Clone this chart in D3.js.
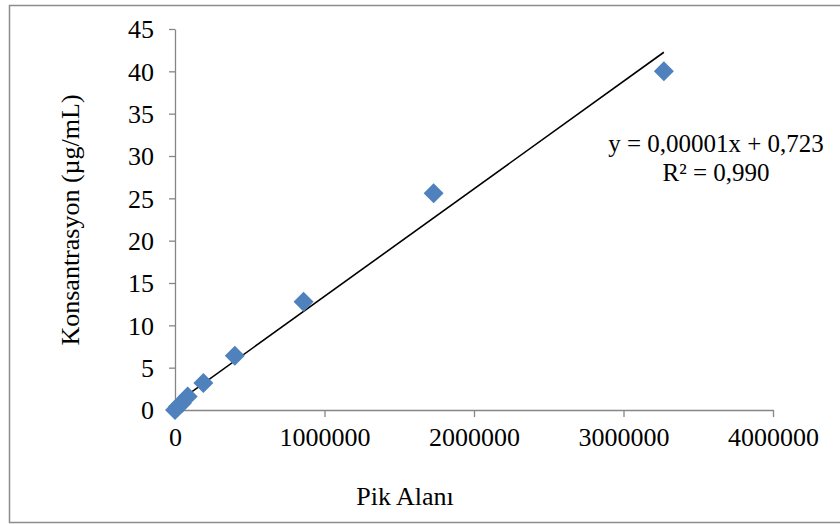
<!DOCTYPE html>
<html>
<head>
<meta charset="utf-8">
<script src="https://cdn.jsdelivr.net/npm/d3@7"></script>
<style>
  body { margin: 0; background: #fff; }
  text { font-family: "Liberation Serif", "Times New Roman", serif; fill: #000; }
</style>
</head>
<body>
<script>
// pik alani (x) vs konsantrasyon (y)
const pikAlani = [0, 20000, 45000, 85000, 190000, 400000, 860000, 1730000, 3270000]
const konsantrasyon = [0, 0.4, 0.8, 1.6, 3.2, 6.4, 12.8, 25.6, 40]
const xTicks = [0, 1000000, 2000000, 3000000, 4000000]
const yTicks = [0, 5, 10, 15, 20, 25, 30, 35, 40, 45]
const trendSlope = 0.0000127
const trendIntercept = 0.723
const equationLines = ["y = 0,00001x + 0,723", "R² = 0,990"]

const W = 840, H = 524

const svg = d3.select("body")
              .append("svg")
              .attr("width", W)
              .attr("height", H)

// chart border
svg.append("rect")
   .attr("x", 9.5).attr("y", 5.5)
   .attr("width", 860).attr("height", 517)
   .attr("fill", "none")
   .attr("stroke", "#8c8c8c")
   .attr("stroke-width", 1.5)

const x = d3.scaleLinear().domain([0, 4000000]).range([175, 773])
const y = d3.scaleLinear().domain([0, 45]).range([410, 29])

const xAxis = svg.append("g")
                 .attr("transform", "translate(0,410)")
                 .call(d3.axisBottom(x).tickValues(xTicks).tickFormat(d3.format("d")).tickSizeInner(7).tickSizeOuter(0))
const yAxis = svg.append("g")
                 .attr("transform", "translate(175,0)")
                 .call(d3.axisLeft(y).tickValues(yTicks).tickSizeInner(6).tickSizeOuter(0))

for (const ax of [xAxis, yAxis]) {
  ax.select(".domain").attr("stroke", "#868686").attr("stroke-width", 1.3)
  ax.selectAll(".tick line").attr("stroke", "#868686").attr("stroke-width", 1.3)
  ax.selectAll(".tick text")
    .attr("font-size", "26px")
    .attr("font-family", "Liberation Serif, serif")
    .attr("fill", "#000")
}
xAxis.selectAll(".tick text").attr("dy", "1.0em")
yAxis.selectAll(".tick text").attr("x", -21).attr("dy", "0.34em")

// trendline
const x0 = d3.min(pikAlani), x1 = d3.max(pikAlani)
svg.append("line")
   .attr("x1", x(x0 + 7000)).attr("y1", y(trendSlope * (x0 + 7000) + trendIntercept))
   .attr("x2", x(x1)).attr("y2", y(trendSlope * x1 + trendIntercept))
   .attr("stroke", "#000")
   .attr("stroke-width", 1.6)

// points
const pts = pikAlani.map((v, i) => [v, konsantrasyon[i]])
svg.append("g")
   .selectAll("path")
   .data(pts)
   .join("path")
   .attr("d", d3.symbol(d3.symbolSquare, 200))
   .attr("transform", d => `translate(${x(d[0])},${y(d[1])}) rotate(45)`)
   .attr("fill", "#4f81bd")

// trendline label
svg.append("text")
   .attr("x", 716).attr("y", 152)
   .attr("text-anchor", "middle")
   .attr("font-size", "25px")
   .selectAll("tspan")
   .data(equationLines)
   .join("tspan")
   .attr("x", 716)
   .attr("dy", (d, i) => i ? 29 : 0)
   .text(d => d)

// axis titles
svg.append("text")
   .attr("x", 405).attr("y", 505)
   .attr("text-anchor", "middle")
   .attr("font-size", "26px")
   .text("Pik Alanı")

svg.append("text")
   .attr("transform", "translate(79,220) rotate(-90)")
   .attr("text-anchor", "middle")
   .attr("font-size", "26px")
   .text("Konsantrasyon (µg/mL)")
</script>
</body>
</html>
